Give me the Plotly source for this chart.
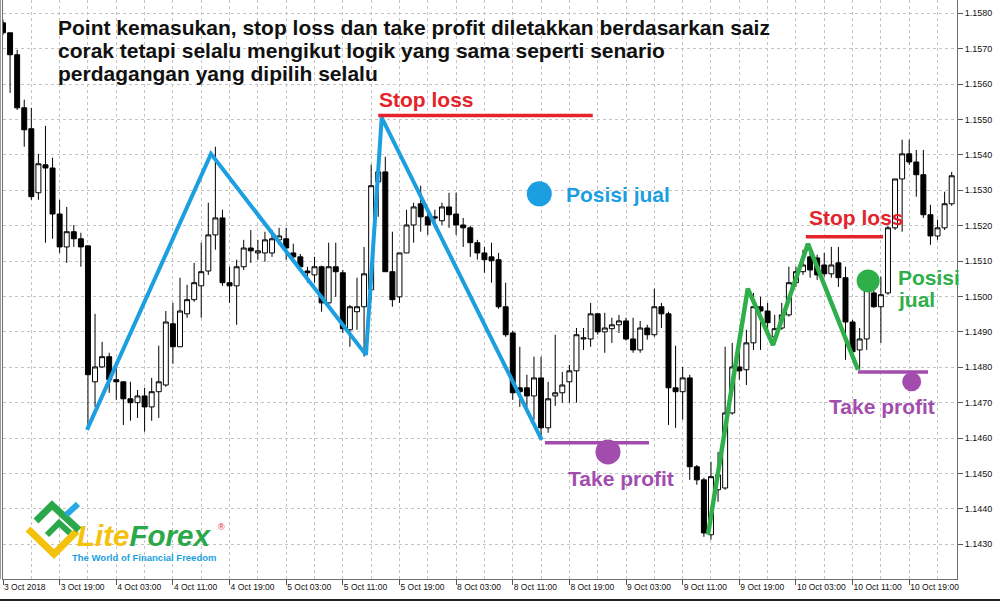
import plotly.graph_objects as go

# ---------------- data ----------------
bar_index = list(range(135))

open_ = [1.15773, 1.15745, 1.15683, 1.15533, 1.15474, 1.15293, 1.15372, 1.15363, 1.15233, 1.15140,
         1.15183, 1.15163, 1.15143, 1.14759, 1.14801, 1.14830, 1.14765, 1.14759, 1.14711, 1.14700,
         1.14719, 1.14688, 1.14731, 1.14750, 1.14923, 1.14858, 1.14951, 1.14991, 1.15030, 1.15072,
         1.15174, 1.15222, 1.15039, 1.15030, 1.15084, 1.15137, 1.15123, 1.15123, 1.15123, 1.15160,
         1.15163, 1.15123, 1.15112, 1.15072, 1.15061, 1.15084, 1.14982, 1.15084, 1.15067, 1.14906,
         1.14957, 1.14971, 1.15019, 1.15324, 1.15352, 1.15070, 1.14999, 1.15123, 1.15202, 1.15262,
         1.15225, 1.15225, 1.15214, 1.15253, 1.15233, 1.15202, 1.15194, 1.15152, 1.15123, 1.15112,
         1.15104, 1.14971, 1.14897, 1.14742, 1.14742, 1.14719, 1.14770, 1.14629, 1.14719, 1.14728,
         1.14759, 1.14790, 1.14880, 1.14880, 1.14951, 1.14900, 1.14909, 1.14920, 1.14931, 1.14880,
         1.14849, 1.14911, 1.14892, 1.14971, 1.14951, 1.14742, 1.14731, 1.14770, 1.14519, 1.14482,
         1.14327, 1.14454, 1.14459, 1.14671, 1.14801, 1.14793, 1.14869, 1.14971, 1.14959, 1.14886,
         1.14911, 1.14948, 1.15039, 1.15070, 1.15112, 1.15109, 1.15089, 1.15064, 1.15095, 1.15053,
         1.14928, 1.14849, 1.14880, 1.15010, 1.14971, 1.15010, 1.15194, 1.15332, 1.15403, 1.15380,
         1.15344, 1.15231, 1.15171, 1.15194, 1.15262]

high = [1.15782, 1.15745, 1.15697, 1.15556, 1.15533, 1.15403, 1.15482, 1.15392, 1.15273, 1.15253,
        1.15202, 1.15180, 1.15143, 1.14951, 1.14872, 1.14841, 1.14815, 1.14759, 1.14759, 1.14736,
        1.14742, 1.14770, 1.14861, 1.14959, 1.14982, 1.15053, 1.15033, 1.15095, 1.15152, 1.15265,
        1.15423, 1.15245, 1.15084, 1.15104, 1.15160, 1.15188, 1.15160, 1.15183, 1.15188, 1.15194,
        1.15194, 1.15149, 1.15120, 1.15084, 1.15112, 1.15087, 1.15152, 1.15152, 1.15075, 1.14976,
        1.15053, 1.15140, 1.15372, 1.15378, 1.15395, 1.15183, 1.15123, 1.15245, 1.15265, 1.15313,
        1.15245, 1.15245, 1.15265, 1.15293, 1.15293, 1.15222, 1.15200, 1.15160, 1.15140, 1.15152,
        1.15123, 1.15039, 1.14903, 1.14858, 1.14779, 1.14830, 1.14830, 1.14759, 1.14892, 1.14787,
        1.14807, 1.14911, 1.14911, 1.14982, 1.14951, 1.14954, 1.14940, 1.14948, 1.14940, 1.14940,
        1.14931, 1.14920, 1.15022, 1.14982, 1.14957, 1.14861, 1.14801, 1.14779, 1.14524, 1.14488,
        1.14533, 1.14561, 1.14858, 1.14869, 1.14849, 1.14906, 1.15010, 1.14999, 1.14982, 1.14948,
        1.14982, 1.15084, 1.15084, 1.15132, 1.15146, 1.15118, 1.15123, 1.15140, 1.15140, 1.15084,
        1.14934, 1.14911, 1.15056, 1.15056, 1.15056, 1.15200, 1.15332, 1.15443, 1.15443, 1.15414,
        1.15414, 1.15259, 1.15217, 1.15296, 1.15352]

low = [1.15739, 1.15575, 1.15527, 1.15423, 1.15273, 1.15273, 1.15152, 1.15163, 1.15123, 1.15095,
       1.15140, 1.15084, 1.14629, 1.14688, 1.14798, 1.14728, 1.14708, 1.14637, 1.14649, 1.14657,
       1.14618, 1.14649, 1.14657, 1.14745, 1.14810, 1.14858, 1.14940, 1.14985, 1.14940, 1.15061,
       1.15132, 1.15030, 1.14982, 1.14920, 1.15075, 1.15095, 1.15104, 1.15098, 1.15112, 1.15146,
       1.15104, 1.15095, 1.15075, 1.15039, 1.15039, 1.14957, 1.14974, 1.14999, 1.14897, 1.14858,
       1.14906, 1.14830, 1.14991, 1.15225, 1.15070, 1.14971, 1.14982, 1.15123, 1.15152, 1.15183,
       1.15174, 1.15194, 1.15202, 1.15194, 1.15174, 1.15140, 1.15112, 1.15104, 1.15067, 1.15039,
       1.14965, 1.14886, 1.14708, 1.14688, 1.14688, 1.14652, 1.14595, 1.14615, 1.14691, 1.14700,
       1.14700, 1.14700, 1.14849, 1.14858, 1.14892, 1.14841, 1.14869, 1.14897, 1.14875, 1.14841,
       1.14841, 1.14878, 1.14886, 1.14911, 1.14637, 1.14629, 1.14652, 1.14482, 1.14468, 1.14321,
       1.14313, 1.14420, 1.14454, 1.14666, 1.14765, 1.14750, 1.14849, 1.14849, 1.14897, 1.14869,
       1.14906, 1.14943, 1.15027, 1.15061, 1.15053, 1.15047, 1.15056, 1.15053, 1.15027, 1.14821,
       1.14821, 1.14793, 1.14849, 1.14968, 1.14869, 1.15005, 1.15188, 1.15183, 1.15372, 1.15282,
       1.15222, 1.15146, 1.15160, 1.15188, 1.15256]

close = [1.15745, 1.15683, 1.15533, 1.15471, 1.15282, 1.15375, 1.15363, 1.15233, 1.15140, 1.15183,
         1.15163, 1.15140, 1.14779, 1.14801, 1.14830, 1.14765, 1.14759, 1.14711, 1.14700, 1.14719,
         1.14688, 1.14731, 1.14759, 1.14928, 1.14858, 1.14959, 1.14991, 1.15039, 1.15070, 1.15174,
         1.15222, 1.15039, 1.15030, 1.15084, 1.15137, 1.15129, 1.15129, 1.15160, 1.15163, 1.15171,
         1.15137, 1.15112, 1.15084, 1.15067, 1.15084, 1.14982, 1.15084, 1.15070, 1.14909, 1.14971,
         1.14971, 1.15064, 1.15313, 1.15352, 1.15070, 1.14991, 1.15123, 1.15202, 1.15253, 1.15225,
         1.15202, 1.15222, 1.15253, 1.15231, 1.15202, 1.15194, 1.15152, 1.15123, 1.15104, 1.15101,
         1.14971, 1.14892, 1.14728, 1.14731, 1.14719, 1.14770, 1.14629, 1.14711, 1.14728, 1.14750,
         1.14790, 1.14892, 1.14883, 1.14951, 1.14900, 1.14911, 1.14920, 1.14931, 1.14880, 1.14849,
         1.14911, 1.14892, 1.14971, 1.14951, 1.14742, 1.14731, 1.14770, 1.14519, 1.14482, 1.14332,
         1.14491, 1.14496, 1.14671, 1.14801, 1.14790, 1.14869, 1.14971, 1.14959, 1.14926, 1.14909,
         1.14948, 1.15039, 1.15070, 1.15089, 1.15075, 1.15061, 1.15064, 1.15089, 1.15053, 1.14928,
         1.14844, 1.14880, 1.15039, 1.14971, 1.15005, 1.15194, 1.15332, 1.15403, 1.15380, 1.15344,
         1.15231, 1.15171, 1.15194, 1.15262, 1.15341]

tick_index = list(range(0, 129, 8))
tick_labels = ["3 Oct 2018", "3 Oct 19:00", "4 Oct 03:00", "4 Oct 11:00", "4 Oct 19:00",
               "5 Oct 03:00", "5 Oct 11:00", "5 Oct 19:00", "8 Oct 03:00", "8 Oct 11:00",
               "8 Oct 19:00", "9 Oct 03:00", "9 Oct 11:00", "9 Oct 19:00", "10 Oct 03:00",
               "10 Oct 11:00", "10 Oct 19:00"]
minor_index = list(range(4, 133, 8))

# pattern 1 (blue zigzag) and its levels
blue_x = [11.86, 29.38, 51.27, 53.49, 76.09]
blue_y = [1.14623, 1.15403, 1.14835, 1.15505, 1.14595]
sl1_x = [53.0, 83.3]
sl1_y = [1.15511, 1.15511]
tp1_x = [76.55, 91.24]
tp1_y = [1.14587, 1.14587]
entry1 = (75.75, 1.15290)
tpdot1 = (85.45, 1.14561)

# pattern 2 (green zigzag) and its levels
green_x = [99.58, 105.2, 108.76, 113.7, 120.76]
green_y = [1.14327, 1.15022, 1.14863, 1.15149, 1.14793]
sl2_x = [113.4, 124.3]
sl2_y = [1.15169, 1.15169]
tp2_x = [120.76, 130.65]
tp2_y = [1.14787, 1.14787]
entry2 = (122.2, 1.15044)
tpdot2 = (128.35, 1.14759)

BLUE = "#1b9fe0"
RED = "#e5232b"
PURPLE = "#a24dad"
GREEN = "#2eaf4a"
FONT = "Liberation Sans"

# ---------------- figure ----------------
fig = go.Figure()

fig.add_trace(go.Candlestick(
    x=bar_index, open=open_, high=high, low=low, close=close,
    increasing=dict(line=dict(color="black", width=1), fillcolor="white"),
    decreasing=dict(line=dict(color="black", width=1), fillcolor="black"),
    whiskerwidth=0, hoverinfo="skip", showlegend=False,
))

def line_trace(x, y, color, width):
    return go.Scatter(x=x, y=y, mode="lines", line=dict(color=color, width=width),
                      hoverinfo="skip", showlegend=False)

fig.add_trace(line_trace(blue_x, blue_y, BLUE, 4))
fig.add_trace(line_trace(sl1_x, sl1_y, RED, 3.5))
fig.add_trace(line_trace(tp1_x, tp1_y, PURPLE, 3.5))
fig.add_trace(line_trace(green_x, green_y, GREEN, 4.5))
fig.add_trace(line_trace(sl2_x, sl2_y, RED, 3.5))
fig.add_trace(line_trace(tp2_x, tp2_y, PURPLE, 3.5))

def dot(pt, color, size):
    return go.Scatter(x=[pt[0]], y=[pt[1]], mode="markers",
                      marker=dict(color=color, size=size, line=dict(width=0)),
                      hoverinfo="skip", showlegend=False)

fig.add_trace(dot(entry1, BLUE, 25))
fig.add_trace(dot(tpdot1, PURPLE, 25))
fig.add_trace(dot(entry2, GREEN, 23))
fig.add_trace(dot(tpdot2, PURPLE, 19))

# pixel helpers for decorative items (plot area: x 3..957, y 0..579)
def px(x):
    return (x - 3) / 954.0

def py(y):
    return (579 - y) / 579.0

ann = []
title_lines = ["Point kemasukan, stop loss dan take profit diletakkan berdasarkan saiz",
               "corak tetapi selalu mengikut logik yang sama seperti senario",
               "perdagangan yang dipilih selalu"]
for i, t in enumerate(title_lines):
    ann.append(dict(text="<b>%s</b>" % t, xref="paper", yref="paper", x=px(56), y=py(27.5 + 23 * i),
                    xanchor="left", yanchor="middle", showarrow=False,
                    font=dict(family=FONT, size=21, color="#111111")))

def label(text, x, y, color):
    return dict(text="<b>%s</b>" % text, xref="x", yref="y", x=x, y=y, xanchor="left",
                yanchor="middle", showarrow=False, font=dict(family=FONT, size=21, color=color))

ann.append(label("Stop loss", 52.85, 1.15556, RED))
ann.append(label("Posisi jual", 79.3, 1.15287, BLUE))
ann.append(label("Take profit", 79.5, 1.14485, PURPLE))
ann.append(label("Stop loss", 113.55, 1.15222, RED))
ann.append(label("Posisi", 126.15, 1.15053, GREEN))
ann.append(label("jual", 126.15, 1.14991, GREEN))
ann.append(label("Take profit", 116.4, 1.14688, PURPLE))

# logo text
ann.append(dict(text="<b><i><span style='color:#f4c20d'>Lite</span><span style='color:#2aa84a'>Forex</span></i></b>",
                xref="paper", yref="paper", x=px(75), y=py(535), xanchor="left", yanchor="middle",
                showarrow=False, font=dict(family=FONT, size=29.5)))
ann.append(dict(text="®", xref="paper", yref="paper", x=px(221), y=py(527), xanchor="center",
                yanchor="middle", showarrow=False, font=dict(family=FONT, size=9, color="#e5232b")))
ann.append(dict(text="<b>The World of Financial Freedom</b>", xref="paper", yref="paper",
                x=px(70), y=py(557), xanchor="left", yanchor="middle", showarrow=False,
                font=dict(family=FONT, size=9.5, color=BLUE)))

def path(points):
    return "M " + " L ".join("%f,%f" % (px(a), py(b)) for a, b in points)

shapes = [
    dict(type="path", xref="paper", yref="paper", path=path([(28, 529), (54, 554), (77, 531)]),
         line=dict(color="#f4c20d", width=7)),
    dict(type="path", xref="paper", yref="paper", path=path([(36, 521), (52, 505), (79, 530)]),
         line=dict(color="#2aa84a", width=7)),
    dict(type="path", xref="paper", yref="paper", path=path([(47, 535), (59, 523), (70, 533)]),
         line=dict(color="#2aa84a", width=6)),
    dict(type="path", xref="paper", yref="paper", path=path([(66, 515), (78, 504)]),
         line=dict(color="#29a9e1", width=6)),
    dict(type="line", xref="paper", yref="paper", x0=px(0.5), x1=px(0.5), y0=py(0), y1=py(579),
         line=dict(color="#9a9a9a", width=1)),
    dict(type="line", xref="paper", yref="paper", x0=px(0), x1=px(1000), y0=py(600), y1=py(600),
         line=dict(color="#222222", width=2)),
]

fig.update_layout(
    width=1000, height=601,
    margin=dict(l=3, r=43, t=0, b=22),
    paper_bgcolor="white", plot_bgcolor="white",
    showlegend=False, hovermode=False,
    boxgap=0.3, boxgroupgap=0,
    annotations=ann, shapes=shapes,
    xaxis=dict(
        range=[0, 134.75], rangeslider=dict(visible=False),
        tickmode="array", tickvals=tick_index, ticktext=tick_labels,
        ticks="outside", ticklen=5, tickcolor="#555555", tickangle=0,
        ticklabelposition="outside right",
        tickfont=dict(family=FONT, size=8.5, color="#111111"),
        showline=True, linecolor="#6e6e6e", linewidth=1, mirror=False,
        showgrid=True, gridcolor="#c4c4c4", griddash="3px,3px", gridwidth=1,
        minor=dict(tickvals=minor_index, showgrid=True, gridcolor="#c4c4c4",
                   griddash="3px,3px", ticks="", ticklen=0),
        zeroline=False, fixedrange=True,
    ),
    yaxis=dict(
        side="right", range=[1.142019, 1.158376],
        tick0=1.143, dtick=0.001, tickformat=".4f",
        ticks="outside", ticklen=5, tickcolor="#555555",
        tickfont=dict(family=FONT, size=9, color="#111111"),
        showline=True, linecolor="#6e6e6e", linewidth=1, mirror=True,
        showgrid=True, gridcolor="#c4c4c4", griddash="3px,3px", gridwidth=1,
        zeroline=False, fixedrange=True,
    ),
)

fig.write_html("out.html", config={"displayModeBar": False},
               post_script="document.body.style.margin='0px';document.body.style.overflow='hidden';")
